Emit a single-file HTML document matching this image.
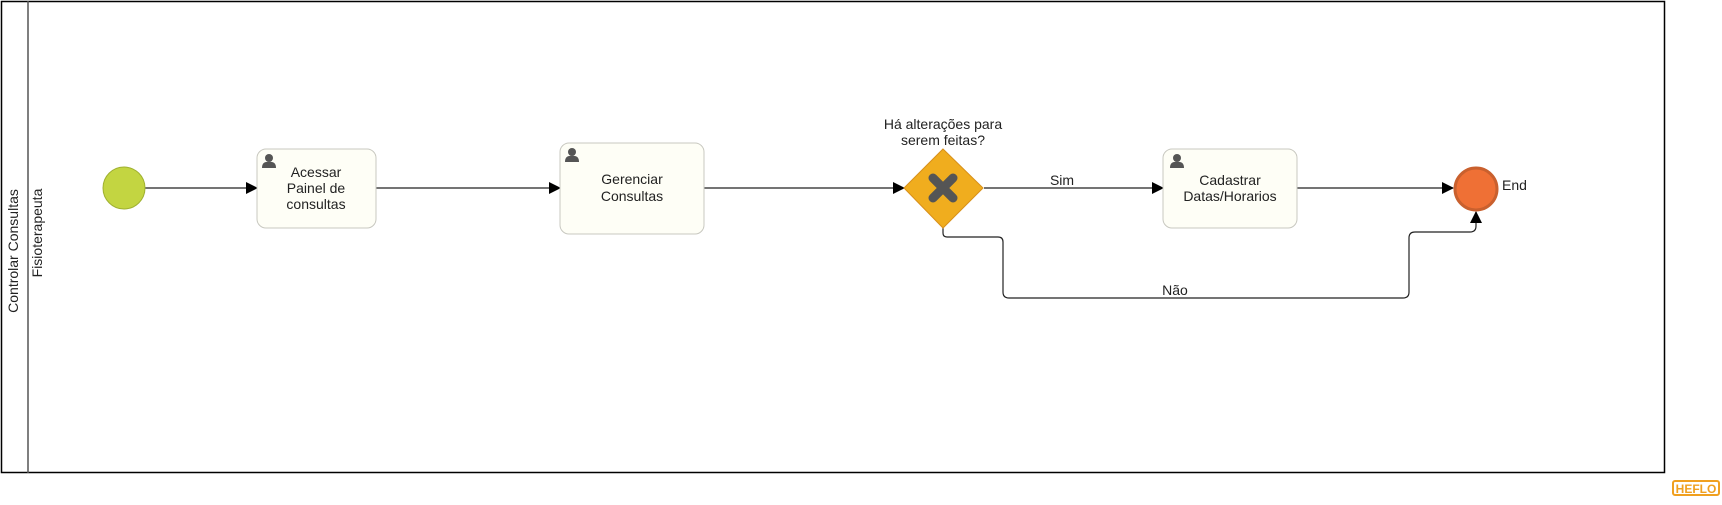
<!DOCTYPE html>
<html><head><meta charset="utf-8"><style>
html,body{margin:0;padding:0;background:#fff;width:1722px;height:505px;overflow:hidden}
text{font-family:"Liberation Sans",sans-serif;font-size:14px;fill:#222}
</style></head><body>
<svg width="1722" height="505" viewBox="0 0 1722 505" xmlns="http://www.w3.org/2000/svg">
<defs><marker id="a" markerWidth="12" markerHeight="12" refX="11" refY="6" orient="auto" markerUnits="userSpaceOnUse"><path d="M0,0 L12,6 L0,12 z" fill="#000"/></marker>
<g id="u"><circle cx="0" cy="-4" r="4" fill="#555"/><path d="M-7,6 Q-7,-1 0,0 Q7,-1 7,6 z" fill="#555"/></g></defs>
<rect x="1.5" y="1.5" width="1663" height="471" fill="#fff" stroke="#000" stroke-width="1.5"/>
<line x1="28" y1="1" x2="28" y2="473" stroke="#555" stroke-width="1.5"/>
<text transform="translate(18,251) rotate(-90)" text-anchor="middle">Controlar Consultas</text>
<text transform="translate(42,233) rotate(-90)" text-anchor="middle">Fisioterapeuta</text>
<g stroke="#222" stroke-width="1.2" fill="none">
<line x1="145" y1="188" x2="257" y2="188" marker-end="url(#a)"/>
<line x1="376" y1="188" x2="560" y2="188" marker-end="url(#a)"/>
<line x1="704" y1="188" x2="904" y2="188" marker-end="url(#a)"/>
<line x1="984" y1="188" x2="1163" y2="188" marker-end="url(#a)"/>
<line x1="1297" y1="188" x2="1453" y2="188" marker-end="url(#a)"/>
<path d="M943,228 V233 Q943,237 947,237 H998 Q1003,237 1003,242 V292 Q1003,298 1009,298 H1403 Q1409,298 1409,292 V238 Q1409,232 1415,232 H1470 Q1476,232 1476,226 V212" marker-end="url(#a)"/>
</g>
<circle cx="124" cy="188" r="21" fill="#c3d541" stroke="#9fb030" stroke-width="1"/>
<rect x="257" y="149" width="119" height="79" rx="9" fill="#fefef6" stroke="#c8c8c0"/>
<use href="#u" x="269" y="162"/>
<text x="316" y="177" text-anchor="middle">Acessar</text><text x="316" y="193" text-anchor="middle">Painel de</text><text x="316" y="209" text-anchor="middle">consultas</text>
<rect x="560" y="143" width="144" height="91" rx="9" fill="#fefef6" stroke="#c8c8c0"/>
<use href="#u" x="572" y="156"/>
<text x="632" y="184" text-anchor="middle">Gerenciar</text><text x="632" y="201" text-anchor="middle">Consultas</text>
<path d="M943,149 L983,188 L943,228 L904,188 z" fill="#f0ad1e" stroke="#d8901a"/>
<path d="M933,178 L953,198 M953,178 L933,198" stroke="#555" stroke-width="9" stroke-linecap="round"/>
<text x="943" y="129" text-anchor="middle">Há alterações para</text><text x="943" y="145" text-anchor="middle">serem feitas?</text>
<text x="1062" y="185" text-anchor="middle">Sim</text>
<rect x="1163" y="149" width="134" height="79" rx="9" fill="#fefef6" stroke="#c8c8c0"/>
<use href="#u" x="1177" y="162"/>
<text x="1230" y="185" text-anchor="middle">Cadastrar</text><text x="1230" y="201" text-anchor="middle">Datas/Horarios</text>
<text x="1175" y="295" text-anchor="middle">Não</text>
<circle cx="1476" cy="189" r="21" fill="#ef7035" stroke="#c9602e" stroke-width="3"/>
<text x="1502" y="190">End</text>
<rect x="1673" y="481" width="46" height="14" rx="2" fill="none" stroke="#f0a020" stroke-width="2"/>
<text x="1696" y="493" text-anchor="middle" style="font-size:12px;font-weight:bold;fill:#f0a020">HEFLO</text>
</svg>
</body></html>
